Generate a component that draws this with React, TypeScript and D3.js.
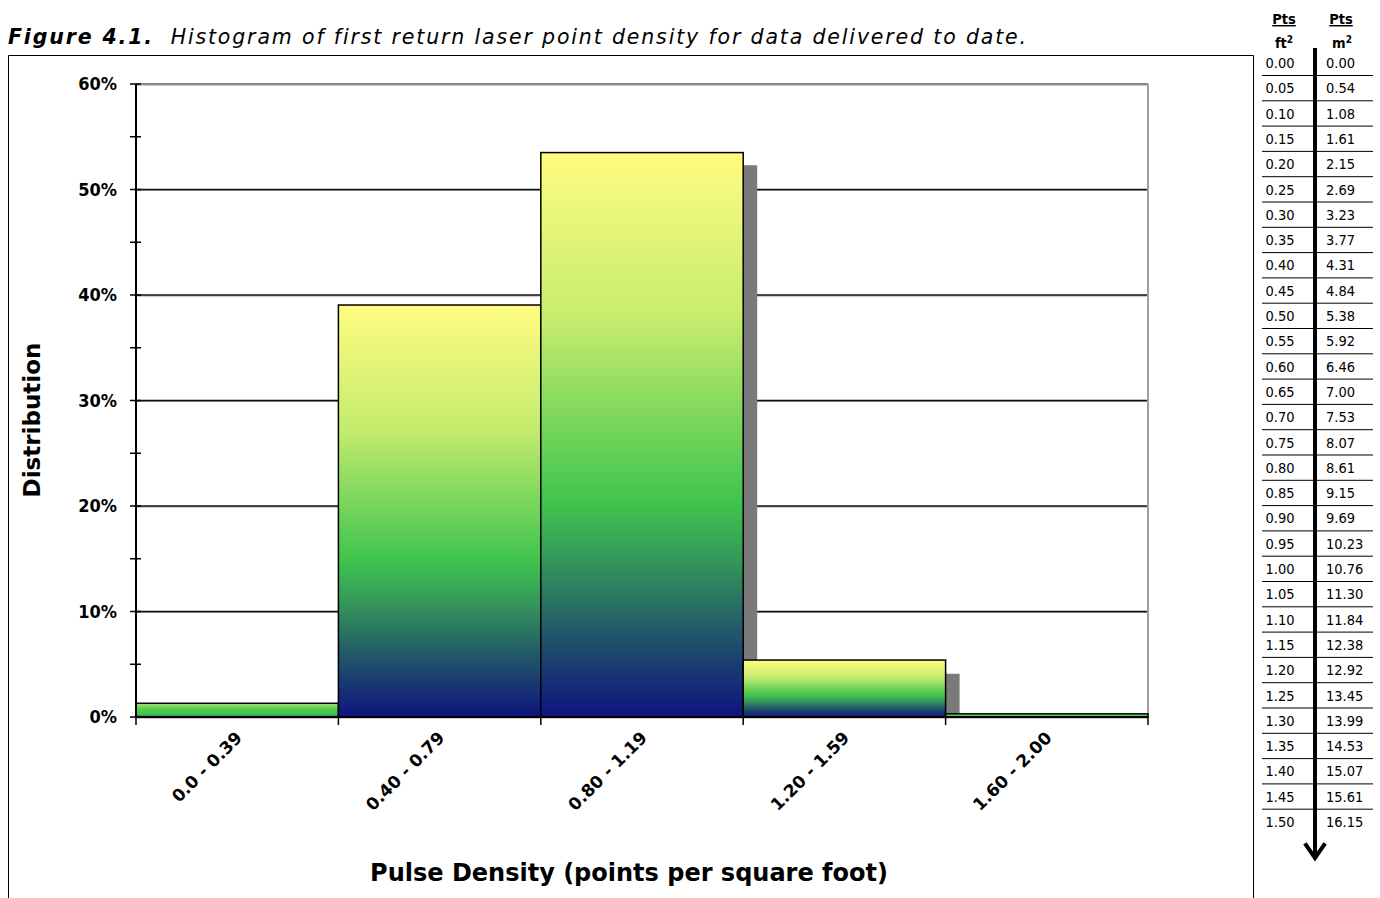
import React from "react";
import * as d3 from "d3";

// Histogram bins and shares (percent of delivered data)
const bins = ["0.0 - 0.39", "0.40 - 0.79", "0.80 - 1.19", "1.20 - 1.59", "1.60 - 2.00"];
const distribution = [1.3, 39.05, 53.5, 5.4, 0.3];
// Grey series drawn behind the main bars
const priorDistribution = [1.0, 38.0, 52.3, 4.1, 0.0];
const yTickValues = [0, 10, 20, 30, 40, 50, 60];

// Conversion table: points per square foot vs points per square metre
const ptsFt2 = ["0.00", "0.05", "0.10", "0.15", "0.20", "0.25", "0.30", "0.35", "0.40", "0.45", "0.50", "0.55", "0.60", "0.65", "0.70", "0.75", "0.80", "0.85", "0.90", "0.95", "1.00", "1.05", "1.10", "1.15", "1.20", "1.25", "1.30", "1.35", "1.40", "1.45", "1.50"];
const ptsM2 = ["0.00", "0.54", "1.08", "1.61", "2.15", "2.69", "3.23", "3.77", "4.31", "4.84", "5.38", "5.92", "6.46", "7.00", "7.53", "8.07", "8.61", "9.15", "9.69", "10.23", "10.76", "11.30", "11.84", "12.38", "12.92", "13.45", "13.99", "14.53", "15.07", "15.61", "16.15"];

const W = 1380;
const H = 898;
const COND = "'DejaVu Sans Condensed', 'DejaVu Sans', sans-serif";
const WIDE = "'DejaVu Sans', Verdana, sans-serif";

export default function App() {
  const left = 136, right = 1148, top = 84, bottom = 717;
  const x = d3.scaleBand<string>().domain(bins).range([left, right]).padding(0);
  const y = d3.scaleLinear().domain([0, 60]).range([bottom, top]);
  const minorTicks = y.ticks(12);
  const bw = x.bandwidth();
  const shadowOffset = 14;

  const rowY = d3.scaleLinear().domain([0, ptsFt2.length - 1]).range([63, 822]);

  return (
    <svg width={W} height={H} style={{ position: "absolute", left: 0, top: 0, display: "block" }} fontFamily={COND}>
      <defs>
        <linearGradient id="barFill" x1="0" y1="0" x2="0" y2="1">
          <stop offset="0" stopColor="#fffc80" />
          <stop offset="0.3" stopColor="#c4ec6e" />
          <stop offset="0.62" stopColor="#3fc44e" />
          <stop offset="0.72" stopColor="#35985a" />
          <stop offset="0.85" stopColor="#215868" />
          <stop offset="1" stopColor="#0f137e" />
        </linearGradient>
        <linearGradient id="thinFill" x1="0" y1="0" x2="0" y2="1">
          <stop offset="0" stopColor="#b4ea72" />
          <stop offset="0.35" stopColor="#5ccd55" />
          <stop offset="0.8" stopColor="#3fc44e" />
          <stop offset="1" stopColor="#2a7a5a" />
        </linearGradient>
        <clipPath id="plotClip">
          <rect x={left} y={top - 2} width={right - left} height={bottom - top + 2} />
        </clipPath>
      </defs>
      <rect width={W} height={H} fill="#fff" />

      {/* title */}
      <text x={8} y={44} fontSize={20.5} fontStyle="italic" fill="#000" fontFamily={WIDE} letterSpacing={1.85}>
        <tspan fontWeight="bold">Figure 4.1.</tspan>
        <tspan>{"\u00a0\u00a0Histogram of first return laser point density for data delivered to date."}</tspan>
      </text>

      {/* chart frame */}
      <path d={`M8.5,${H} V55.5 H1253.5 V${H}`} fill="none" stroke="#000" strokeWidth={1} />

      {/* grid lines */}
      {yTickValues.map((v) => (
        <g key={v}>
          <line x1={left} x2={right} y1={y(v) + 1} y2={y(v) + 1} stroke="#999" strokeWidth={1} />
          <line x1={left} x2={right} y1={y(v)} y2={y(v)} stroke={v === 60 ? "#888" : "#111"} strokeWidth={v === 60 ? 2 : 1.3} />
        </g>
      ))}
      <line x1={right} x2={right} y1={top} y2={bottom} stroke="#a0a0a0" strokeWidth={2} />

      {/* grey series behind */}
      <g clipPath="url(#plotClip)">
        {bins.map((b, i) => (
          <rect key={b} x={(x(b) as number) + shadowOffset} y={y(priorDistribution[i])} width={bw}
            height={bottom - y(priorDistribution[i])} fill="#7a7a7a" />
        ))}
      </g>

      {/* main bars */}
      {bins.map((b, i) => {
        const h = bottom - y(distribution[i]);
        return (
          <rect key={b} x={x(b) as number} y={y(distribution[i])} width={bw}
            height={h} fill={h < 20 ? "url(#thinFill)" : "url(#barFill)"} stroke="#000" strokeWidth={1.5} />
        );
      })}

      {/* y axis */}
      <line x1={left} x2={left} y1={top} y2={bottom} stroke="#000" strokeWidth={2} />
      {minorTicks.map((v) => (
        <line key={v} x1={left - 6} x2={left + 5} y1={y(v)} y2={y(v)} stroke="#000" strokeWidth={1.5} />
      ))}
      {yTickValues.map((v) => (
        <text key={v} x={117} y={y(v) + 6} textAnchor="end" fontSize={18} fontWeight="bold">{`${v}%`}</text>
      ))}

      {/* x axis */}
      <line x1={left} x2={right} y1={bottom} y2={bottom} stroke="#000" strokeWidth={2} />
      {[...bins.map((b) => x(b) as number), right].map((px, i) => (
        <line key={i} x1={px} x2={px} y1={bottom} y2={bottom + 8} stroke="#000" strokeWidth={1.5} />
      ))}
      {bins.map((b) => {
        const cx = (x(b) as number) + bw / 2 + 6;
        const cy = bottom + 22;
        return (
          <text key={b} x={cx} y={cy} textAnchor="end" fontSize={17} fontWeight="bold" fontFamily={WIDE}
            transform={`rotate(-45, ${cx}, ${cy})`}>{b}</text>
        );
      })}

      {/* axis titles */}
      <text x={629} y={881} textAnchor="middle" fontSize={24} fontWeight="bold" fontFamily={WIDE}>Pulse Density (points per square foot)</text>
      <text transform="translate(40, 420) rotate(-90)" textAnchor="middle" fontSize={23} fontWeight="bold" fontFamily={WIDE}>Distribution</text>

      {/* conversion table */}
      <text x={1284} y={24} textAnchor="middle" fontSize={14.5} fontWeight="bold" textDecoration="underline">Pts</text>
      <text x={1341} y={24} textAnchor="middle" fontSize={14.5} fontWeight="bold" textDecoration="underline">Pts</text>
      <text x={1284} y={48} textAnchor="middle" fontSize={14.5} fontWeight="bold">ft<tspan fontSize={10} dy={-5}>2</tspan></text>
      <text x={1342} y={48} textAnchor="middle" fontSize={14.5} fontWeight="bold">m<tspan fontSize={10} dy={-5}>2</tspan></text>
      {ptsFt2.map((v, i) => (
        <g key={v}>
          <text x={1280} y={rowY(i) + 5} textAnchor="middle" fontSize={14.5}>{v}</text>
          <text x={1326} y={rowY(i) + 5} textAnchor="start" fontSize={14.5}>{ptsM2[i]}</text>
          {i < ptsFt2.length - 1 && (
            <line x1={1262} x2={1373} y1={rowY(i) + 12.5} y2={rowY(i) + 12.5} stroke="#000" strokeWidth={1} />
          )}
        </g>
      ))}
      <line x1={1315} x2={1315} y1={48} y2={856} stroke="#000" strokeWidth={4} />
      <path d="M1306,845 L1315,858 L1324,845" fill="none" stroke="#000" strokeWidth={4} strokeLinecap="square" />
    </svg>
  );
}
